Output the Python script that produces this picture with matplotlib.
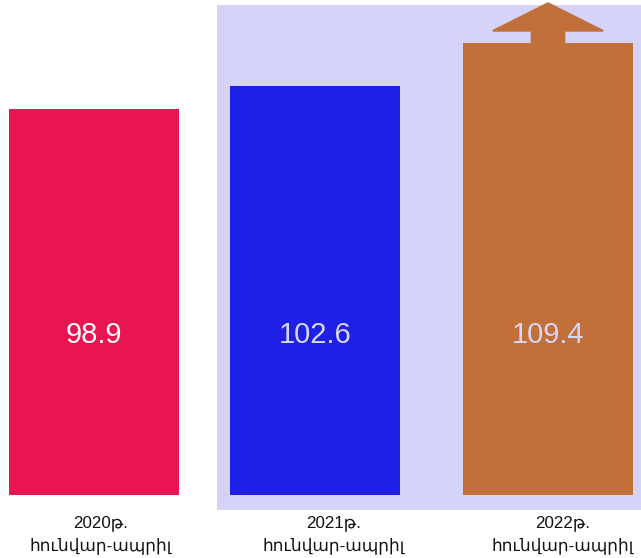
import matplotlib
matplotlib.use("Agg")
import matplotlib.pyplot as plt
from matplotlib.patches import Rectangle, Polygon

categories = ["2020թ.\nհունվար-ապրիլ", "2021թ.\nհունվար-ապրիլ", "2022թ.\nհունվար-ապրիլ"]
values = [98.9, 102.6, 109.4]
colors = ["#E81552", "#1F20E6", "#C07038"]
text_colors = ["#FFFFFF", "#D8D6F6", "#D8D6F6"]

plt.rcParams['font.family'] = ['Liberation Sans', 'DejaVu Sans']

W, H = 641, 558
fig = plt.figure(figsize=(W/100, H/100), dpi=100)
fig.patch.set_facecolor("white")

# lavender panel behind the last two bars
fig.patches.append(Rectangle((217/W, (H-510)/H), 1 - 217/W, (510-5)/H,
                             transform=fig.transFigure, facecolor="#D5D3F8",
                             edgecolor="none", zorder=0))

ax = fig.add_axes([0, 63/H, 1, 1 - 63/H])
ax.set_facecolor("none")
ax.set_zorder(1)

positions = [0, 0.974, 2]
ax.bar(positions, values, width=0.75, color=colors, zorder=2)
ymin, ymax = 36.8, 116.38
ax.set_ylim(ymin, ymax)
ax.set_xlim(-94/227, (641-94)/227)

for xi, v, tc in zip(positions, values, text_colors):
    ax.text(xi, 62.5, f"{v}", ha="center", va="center", fontsize=21, color=tc, zorder=3)

# upward arrow on top of the last bar
top = values[2]
xc = positions[2]
shaft_w = 0.072
head_w = 0.24
head_base = top + 2.05
tip = top + 6.45
arrow = Polygon([(xc - shaft_w, top), (xc - shaft_w, head_base), (xc - head_w, head_base),
                 (xc, tip), (xc + head_w, head_base), (xc + shaft_w, head_base),
                 (xc + shaft_w, top)], closed=True, facecolor=colors[2],
                edgecolor=colors[2], linewidth=1.5, joinstyle="round", zorder=2)
ax.add_patch(arrow)

ax.set_axis_off()

label_offsets = [0.03, 0.08, 0.063]
for xi, lab, off in zip(positions, categories, label_offsets):
    ax.text(xi + off, ymin - 3.3, lab, ha="center", va="top", fontsize=12.2,
            color="#111111", linespacing=1.45, zorder=3, clip_on=False)

fig.savefig("out.png", dpi=100)
